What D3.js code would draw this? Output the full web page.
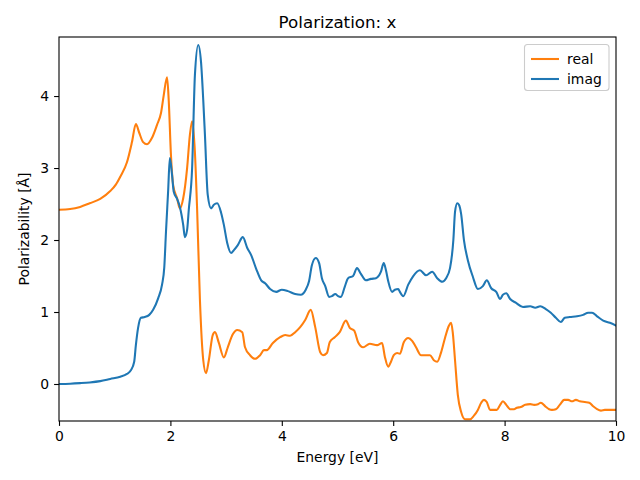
<!DOCTYPE html>
<html><head><meta charset="utf-8">
<script src="https://cdn.jsdelivr.net/npm/d3@7"></script>
<style>body{margin:0;background:#fff}svg{display:block;font-family:"DejaVu Sans",sans-serif}</style>
</head><body><svg id="c" width="640" height="480"></svg>
<script>
const title = "Polarization: x";
const xLabel = "Energy [eV]";
const yLabel = "Polarizability [Å]";
const seriesNames = ["real", "imag"];
const xTicks = [0, 2, 4, 6, 8, 10];
const yTicks = [0, 1, 2, 3, 4];
const realE = [0,0.2,0.38,0.55,0.74,0.92,1.02,1.10,1.22,1.31,1.38,1.44,1.51,1.58,1.67,1.76,1.83,1.88,1.94,1.97,2.01,2.05,2.12,2.17,2.23,2.30,2.35,2.39,2.44,2.48,2.53,2.59,2.64,2.69,2.76,2.80,2.87,2.96,3.03,3.12,3.20,3.29,3.34,3.43,3.52,3.61,3.68,3.73,3.84,3.97,4.06,4.15,4.24,4.33,4.42,4.52,4.60,4.69,4.74,4.81,4.86,4.95,5.04,5.15,5.22,5.30,5.37,5.46,5.58,5.71,5.80,5.85,5.91,5.96,6.01,6.07,6.12,6.19,6.27,6.34,6.41,6.50,6.57,6.66,6.73,6.79,6.86,6.93,7.00,7.04,7.07,7.11,7.16,7.22,7.29,7.38,7.45,7.52,7.58,7.63,7.68,7.74,7.81,7.86,7.92,7.97,8.03,8.10,8.17,8.22,8.29,8.37,8.46,8.53,8.60,8.65,8.73,8.80,8.85,8.92,8.99,9.07,9.14,9.21,9.28,9.35,9.44,9.52,9.59,9.66,9.73,9.80,9.89,10.0];
const realV = [2.42,2.43,2.46,2.51,2.57,2.68,2.77,2.88,3.08,3.36,3.61,3.49,3.36,3.33,3.42,3.60,3.76,4.01,4.26,3.94,3.18,2.76,2.58,2.44,2.58,3.00,3.46,3.65,3.22,2.42,1.17,0.33,0.15,0.33,0.68,0.72,0.57,0.37,0.51,0.69,0.75,0.72,0.51,0.40,0.35,0.40,0.47,0.47,0.57,0.65,0.68,0.67,0.72,0.79,0.89,1.03,0.79,0.44,0.40,0.43,0.58,0.65,0.72,0.88,0.78,0.74,0.58,0.51,0.56,0.54,0.57,0.38,0.24,0.31,0.40,0.43,0.42,0.58,0.64,0.60,0.51,0.40,0.40,0.40,0.33,0.31,0.44,0.64,0.81,0.85,0.71,0.33,-0.15,-0.39,-0.49,-0.49,-0.44,-0.36,-0.26,-0.22,-0.25,-0.36,-0.36,-0.36,-0.29,-0.24,-0.29,-0.35,-0.35,-0.33,-0.32,-0.29,-0.28,-0.29,-0.28,-0.26,-0.31,-0.35,-0.36,-0.35,-0.29,-0.22,-0.22,-0.24,-0.22,-0.24,-0.25,-0.26,-0.31,-0.35,-0.37,-0.36,-0.36,-0.36];
const imagE = [0,0.2,0.38,0.55,0.74,0.92,1.10,1.22,1.29,1.35,1.38,1.42,1.47,1.54,1.62,1.69,1.78,1.85,1.89,1.92,1.96,1.99,2.03,2.06,2.12,2.17,2.23,2.26,2.30,2.33,2.39,2.44,2.50,2.55,2.59,2.62,2.67,2.73,2.78,2.84,2.91,2.96,3.02,3.09,3.14,3.21,3.30,3.38,3.45,3.54,3.63,3.70,3.79,3.90,4.00,4.11,4.24,4.34,4.43,4.49,4.54,4.61,4.67,4.72,4.78,4.85,4.90,4.96,5.01,5.06,5.13,5.19,5.28,5.35,5.42,5.51,5.60,5.69,5.78,5.83,5.87,5.91,5.98,6.03,6.09,6.12,6.18,6.27,6.36,6.48,6.59,6.70,6.79,6.88,6.95,7.02,7.08,7.11,7.15,7.18,7.22,7.27,7.34,7.43,7.52,7.61,7.68,7.76,7.85,7.92,7.97,8.03,8.10,8.20,8.33,8.46,8.55,8.64,8.74,8.83,8.92,9.01,9.08,9.17,9.30,9.41,9.50,9.57,9.66,9.77,9.89,10.0];
const imagV = [0,0.004,0.012,0.022,0.04,0.07,0.10,0.14,0.19,0.31,0.54,0.78,0.92,0.93,0.96,1.03,1.19,1.38,1.62,2.10,2.69,3.14,2.90,2.67,2.57,2.46,2.21,2.04,2.14,2.42,3.00,4.29,4.71,4.47,3.94,3.46,2.63,2.44,2.49,2.51,2.38,2.21,1.96,1.82,1.86,1.93,2.04,1.89,1.79,1.60,1.44,1.40,1.32,1.28,1.31,1.29,1.25,1.24,1.31,1.43,1.65,1.75,1.68,1.47,1.36,1.21,1.22,1.25,1.22,1.21,1.35,1.47,1.50,1.61,1.53,1.44,1.46,1.47,1.56,1.68,1.58,1.43,1.28,1.31,1.32,1.28,1.22,1.38,1.50,1.58,1.51,1.56,1.47,1.42,1.47,1.61,2.00,2.39,2.51,2.49,2.36,2.00,1.72,1.49,1.32,1.36,1.44,1.33,1.28,1.18,1.24,1.26,1.18,1.13,1.07,1.08,1.06,1.08,1.04,0.99,0.92,0.86,0.92,0.93,0.94,0.96,0.99,0.99,0.94,0.88,0.85,0.81];
const colors = ["#ff7f0e", "#1f77b4"];

const L = 59, R = 616, T = 37, B = 421;
const svg = d3.select("#c");
const x = d3.scaleLinear().domain([0, 10]).range([L, R]);
const y = d3.scaleLinear().domain([-0.514, 4.82]).range([B, T]);

svg.append("defs").append("clipPath").attr("id", "clip")
  .append("rect").attr("x", L).attr("y", T).attr("width", R - L).attr("height", B - T);

const series = [
  realE.map((e, i) => [e, realV[i]]),
  imagE.map((e, i) => [e, imagV[i]])
];
const line = d3.line().x(d => x(d[0])).y(d => y(d[1])).curve(d3.curveMonotoneX);
const g = svg.append("g").attr("clip-path", "url(#clip)");
series.forEach((s, i) => {
  g.append("path").datum(s).attr("d", line).attr("fill", "none")
    .attr("stroke", colors[i]).attr("stroke-width", 2.08).attr("stroke-linejoin", "round").attr("stroke-linecap", "square");
});

const xAxis = svg.append("g").attr("transform", `translate(0,${B})`)
  .call(d3.axisBottom(x).tickValues(xTicks).tickFormat(d3.format("d")).tickSizeOuter(0).tickSize(4.9).tickPadding(4.9));
const yAxis = svg.append("g").attr("transform", `translate(${L},0)`)
  .call(d3.axisLeft(y).tickValues(yTicks).tickFormat(d3.format("d")).tickSizeOuter(0).tickSize(4.9).tickPadding(4.9));
[xAxis, yAxis].forEach(a => {
  a.select(".domain").remove();
  a.selectAll("line").attr("stroke", "#000").attr("stroke-width", 1.1);
  a.selectAll("text").attr("font-family", "DejaVu Sans").attr("font-size", 13.9).attr("fill", "#000");
});

svg.append("rect").attr("x", L).attr("y", T).attr("width", R - L).attr("height", B - T)
  .attr("fill", "none").attr("stroke", "#000").attr("stroke-width", 1.1);

svg.append("text").attr("x", (L + R) / 2).attr("y", 28).attr("text-anchor", "middle")
  .attr("font-size", 16.7).text(title);
svg.append("text").attr("x", (L + R) / 2).attr("y", 462).attr("text-anchor", "middle")
  .attr("font-size", 13.9).text(xLabel);
svg.append("text").attr("transform", `translate(29,${(T + B) / 2}) rotate(-90)`).attr("text-anchor", "middle")
  .attr("font-size", 13.9).text(yLabel);

const lg = svg.append("g");
lg.append("rect").attr("x", 524.5).attr("y", 44.5).attr("width", 84.5).attr("height", 46).attr("rx", 3)
  .attr("fill", "#fff").attr("fill-opacity", 0.8).attr("stroke", "#ccc").attr("stroke-width", 1.1);
seriesNames.forEach((n, i) => {
  const yy = 59 + i * 20;
  lg.append("line").attr("x1", 531).attr("x2", 559).attr("y1", yy).attr("y2", yy)
    .attr("stroke", colors[i]).attr("stroke-width", 2.08);
  lg.append("text").attr("x", 567).attr("y", yy + 5).attr("font-size", 13.9).text(n);
});
</script></body></html>
